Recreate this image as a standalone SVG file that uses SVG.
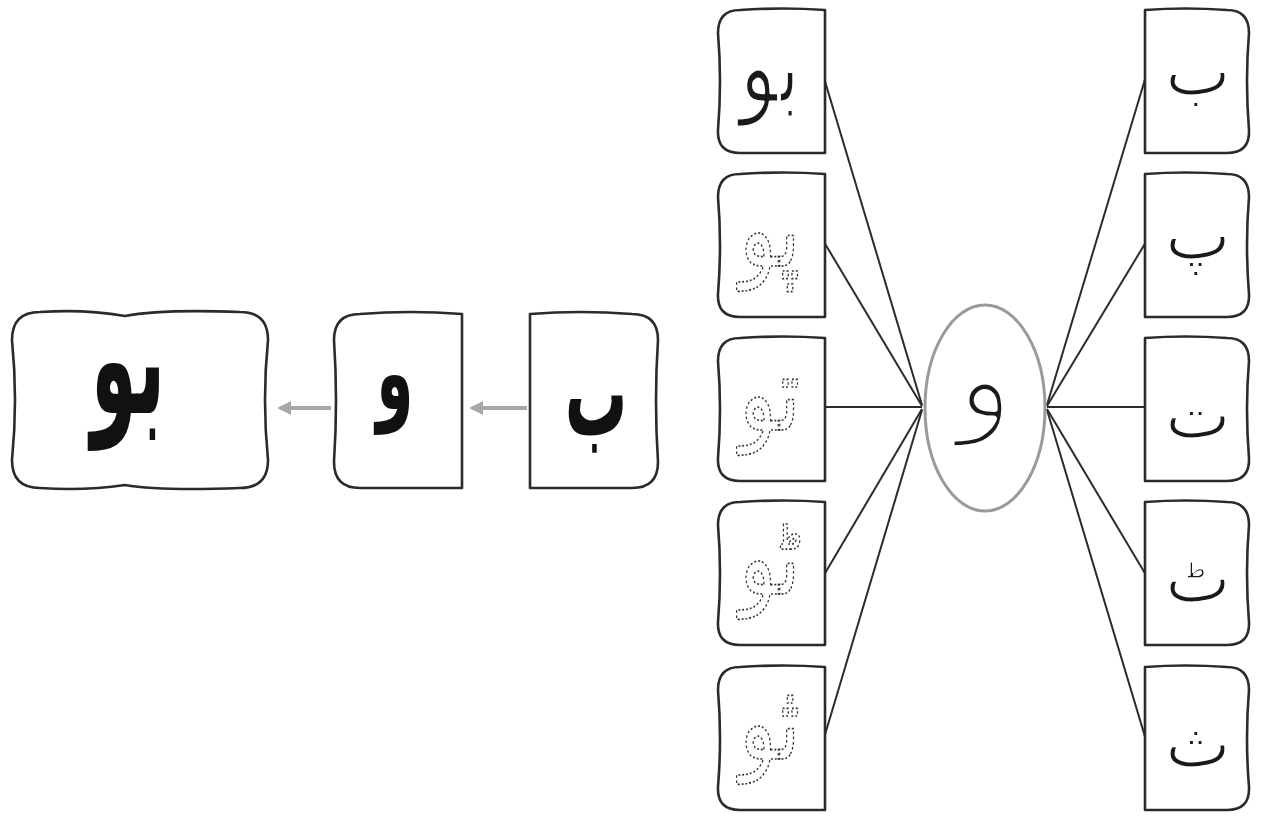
<svg xmlns="http://www.w3.org/2000/svg" width="1263" height="818" viewBox="0 0 1263 818">
<style>
.box{fill:#fff;stroke:#2b2b2b;stroke-width:2.6;stroke-linejoin:round}
.big{font-family:"DejaVu Sans",sans-serif;font-weight:bold;fill:#111;text-anchor:middle}
.thin{font-family:"DejaVu Sans",sans-serif;fill:#1a1a1a;stroke:#fff;stroke-linejoin:round;text-anchor:middle}
.dotted{font-family:"DejaVu Sans",sans-serif;fill:none;stroke:#333;stroke-width:1.3;stroke-dasharray:2 2;text-anchor:middle}
.conn{stroke:#2b2b2b;stroke-width:2;fill:none}
.arrow{stroke:#a8a8a8;stroke-width:4;fill:none}
</style>
<defs>
<path id="sb" d="M110 2 L110 145 L25 145 Q2 145 3 122 Q7 73 3 25 Q3 2 25 2 Q68 -1 110 2 Z"/>
<path id="sc" d="M0 2 L0 145 L82 145 Q105 145 104 122 Q100 73 104 25 Q104 2 82 2 Q40 -1 0 2 Z"/>
<marker id="ah" viewBox="0 0 10 10" refX="8" refY="5" markerWidth="3.5" markerHeight="3.5" orient="auto" markerUnits="strokeWidth">
<path d="M0 0 L10 5 L0 10 Z" fill="#a8a8a8"/>
</marker>
</defs>

<g id="connectors">
<line class="arrow" x1="527" y1="408" x2="472" y2="408" marker-end="url(#ah)"/>
<line class="arrow" x1="331" y1="408" x2="280" y2="408" marker-end="url(#ah)"/>
<line class="conn" x1="824" y1="78" x2="922" y2="405"/>
<line class="conn" x1="824" y1="242" x2="922" y2="406"/>
<line class="conn" x1="824" y1="407" x2="922" y2="407"/>
<line class="conn" x1="824" y1="575" x2="922" y2="409"/>
<line class="conn" x1="824" y1="738" x2="922" y2="410"/>
<line class="conn" x1="1047" y1="405" x2="1146" y2="76"/>
<line class="conn" x1="1047" y1="406" x2="1146" y2="242"/>
<line class="conn" x1="1047" y1="407" x2="1146" y2="407"/>
<line class="conn" x1="1047" y1="409" x2="1146" y2="575"/>
<line class="conn" x1="1047" y1="410" x2="1146" y2="740"/>
</g>

<g id="node-bo-big">
<path class="box" d="M40 312 Q85 309 125 316 Q160 309 240 312 Q268 312 268 340 Q262 400 268 460 Q268 488 240 488 Q160 491 125 485 Q85 491 40 488 Q12 488 12 460 Q18 400 12 340 Q12 312 40 312 Z"/>
<text class="big" transform="translate(128 413) scale(0.62 1.3)" font-size="120">بو</text>
</g>
<g id="node-waw-big">
<path class="box" d="M462 314 L462 488 L360 488 Q334 488 334 462 Q338 400 334 340 Q334 314 360 314 Q410 310 462 314 Z"/>
<text class="big" transform="translate(395 409) scale(0.5 0.88)" font-size="120">و</text>
</g>
<g id="node-beh-big">
<path class="box" d="M530 314 L530 488 L632 488 Q658 488 658 462 Q654 400 658 340 Q658 314 632 314 Q580 310 530 314 Z"/>
<text class="big" transform="translate(596 435) scale(0.52 1)" font-size="120">ب</text>
</g>

<g id="node-l1"><use href="#sb" class="box" x="715" y="8"/><text class="thin" stroke-width="2.5" transform="translate(770 102) scale(0.95 1.3)" font-size="80">بو</text></g>
<g id="node-l2"><use href="#sb" class="box" x="715" y="172"/><text class="dotted" transform="translate(770 266) scale(0.95 1.3)" font-size="80">پو</text></g>
<g id="node-l3"><use href="#sb" class="box" x="715" y="336"/><text class="dotted" transform="translate(770 430) scale(0.95 1.3)" font-size="80">تو</text></g>
<g id="node-l4"><use href="#sb" class="box" x="715" y="500"/><text class="dotted" transform="translate(770 594) scale(0.95 1.3)" font-size="80">ٹو</text></g>
<g id="node-l5"><use href="#sb" class="box" x="715" y="665"/><text class="dotted" transform="translate(770 759) scale(0.95 1.3)" font-size="80">ثو</text></g>

<g id="node-center">
<ellipse cx="985" cy="408" rx="60" ry="103" fill="#fff" stroke="#9a9a9a" stroke-width="3"/>
<text class="thin" stroke-width="7" x="985" y="419" font-size="120">و</text>
</g>

<g id="node-r1"><use href="#sc" class="box" x="1145" y="8"/><text class="thin" stroke-width="2.2" x="1198" y="95" font-size="70">ب</text></g>
<g id="node-r2"><use href="#sc" class="box" x="1145" y="172"/><text class="thin" stroke-width="2.2" x="1198" y="259" font-size="70">پ</text></g>
<g id="node-r3"><use href="#sc" class="box" x="1145" y="336"/><text class="thin" stroke-width="2.2" x="1198" y="438" font-size="70">ت</text></g>
<g id="node-r4"><use href="#sc" class="box" x="1145" y="500"/><text class="thin" stroke-width="2.2" x="1198" y="602" font-size="70">ٹ</text></g>
<g id="node-r5"><use href="#sc" class="box" x="1145" y="665"/><text class="thin" stroke-width="2.2" x="1198" y="767" font-size="70">ث</text></g>
</svg>
